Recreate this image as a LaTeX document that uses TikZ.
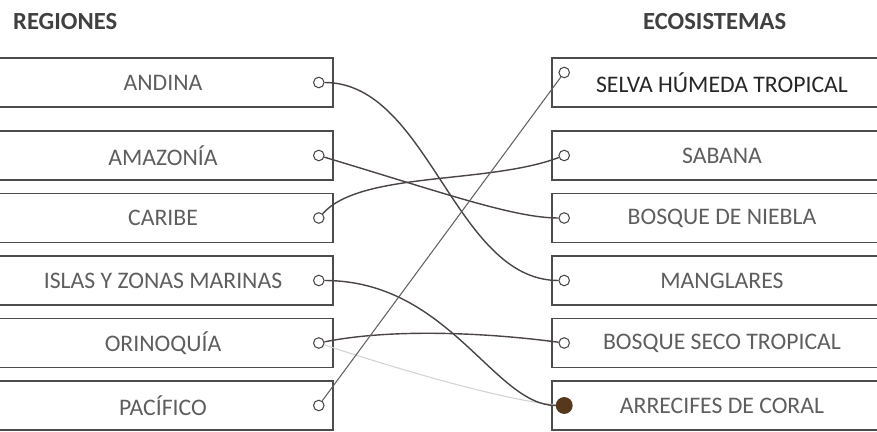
\documentclass[tikz,border=0pt]{standalone}
\usepackage{fontspec}
\setmainfont{Carlito}
\usepackage{tikz}
\usetikzlibrary{positioning}
\usepackage{xcolor}
\definecolor{pen}{HTML}{4A4444}
\definecolor{ink}{HTML}{5E5E5E}

\tikzset{
  reg/.style={draw=black!70, line width=0.9pt, minimum width=6.8cm, minimum height=0.98cm,
    text=ink, font=\fontsize{13.5}{15}\selectfont},
  eco/.style={reg},
  head/.style={text=black!75, font=\bfseries\fontsize{14}{16}\selectfont, anchor=west},
  dot/.style={circle, draw=pen, line width=0.6pt, inner sep=0pt, minimum size=6pt},
  link/.style={draw=pen, line width=0.8pt}
}

\begin{document}
\begin{tikzpicture}[node distance=1.25cm]
\useasboundingbox (0,0) rectangle (17.54,-8.64);

\node (REG) [head] at (0.14,-0.44) {REGIONES};
\node (ECO) [head] at (12.74,-0.44) {ECOSISTEMAS};

% regiones
\node (AND) [reg] at (3.26,-1.65) {ANDINA};
\node (AMA) [reg, below of=AND, yshift=-0.21cm] {AMAZONÍA};
\node (CAR) [reg, below of=AMA] {CARIBE};
\node (ISL) [reg, below of=CAR] {ISLAS Y ZONAS MARINAS};
\node (ORI) [reg, below of=ISL] {ORINOQUÍA};
\node (PAC) [reg, below of=ORI] {PACÍFICO};

% ecosistemas
\node (SEL) [eco, text=black!85] at (14.44,-1.65) {SELVA HÚMEDA TROPICAL};
\node (SAB) [eco, below of=SEL, yshift=-0.21cm] {SABANA};
\node (NIE) [eco, below of=SAB] {BOSQUE DE NIEBLA};
\node (MAN) [eco, below of=NIE] {MANGLARES};
\node (SEC) [eco, below of=MAN] {BOSQUE SECO TROPICAL};
\node (ARR) [eco, below of=SEC] {ARRECIFES DE CORAL};

% puntos
\node (AND-o) [dot] at ([xshift=-0.3cm]AND.east) {};
\node (AMA-o) [dot] at ([xshift=-0.3cm]AMA.east) {};
\node (CAR-o) [dot] at ([xshift=-0.3cm]CAR.east) {};
\node (ISL-o) [dot] at ([xshift=-0.3cm]ISL.east) {};
\node (ORI-o) [dot] at ([xshift=-0.3cm]ORI.east) {};
\node (PAC-o) [dot] at ([xshift=-0.3cm]PAC.east) {};
\node (SEL-o) [dot] at ([xshift=0.26cm, yshift=0.2cm]SEL.west) {};
\node (SAB-o) [dot] at ([xshift=0.26cm]SAB.west) {};
\node (NIE-o) [dot] at ([xshift=0.26cm]NIE.west) {};
\node (MAN-o) [dot] at ([xshift=0.26cm]MAN.west) {};
\node (SEC-o) [dot] at ([xshift=0.26cm]SEC.west) {};
\node (ARR-o) [dot, fill=brown!45!black, draw=brown!45!black, minimum size=9pt] at ([xshift=0.26cm]ARR.west) {};

% uniones
\draw[draw=gray!35, line width=0.6pt] (ORI-o) .. controls +(1.5,-0.5) and +(-1.2,0.1) .. (ARR-o);
\draw[link] (AND-o) .. controls +(2.2,0) and +(-2.2,0) .. (MAN-o);
\draw[link] (AMA-o) .. controls +(2.5,-0.75) and +(-1.0,0) .. (NIE-o);
\draw[link] (CAR-o) .. controls +(0.84,0.94) and +(-1.54,-0.58) .. (SAB-o);
\draw[link] (ISL-o) .. controls +(2.6,0) and +(-1.4,0) .. (ARR-o);
\draw[link] (ORI-o) .. controls +(1.5,0.3) and +(-1.5,0.2) .. (SEC-o);
\draw[link, line width=0.6pt, draw=pen!85] (PAC-o) -- (SEL-o);
\end{tikzpicture}
\end{document}
